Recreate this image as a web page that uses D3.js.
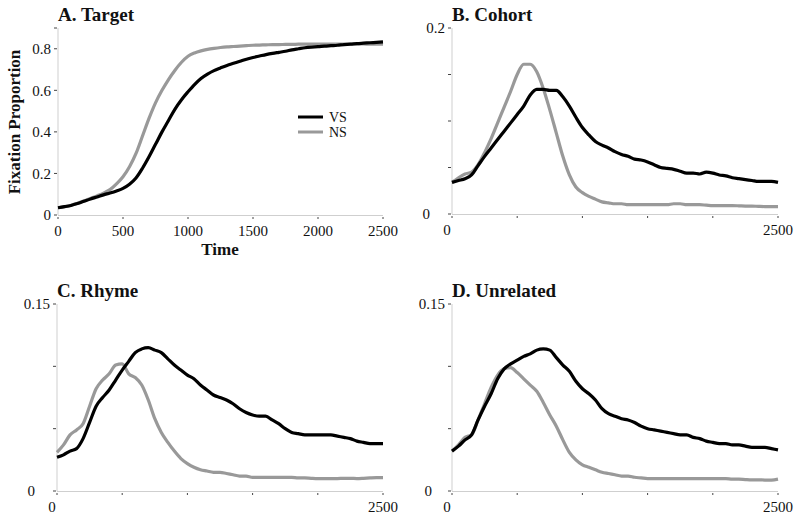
<!DOCTYPE html>
<html>
<head>
<meta charset="utf-8">
<script src="https://cdn.jsdelivr.net/npm/d3@7"></script>
<style>
  body { margin: 0; background: #fff; }
  svg { display: block; }
  text { font-family: "Liberation Serif", "Times New Roman", serif; fill: #111; }
</style>
</head>
<body>
<svg id="chart" width="800" height="520"></svg>
<script>
// ---- data ----
const times = d3.range(0, 2501, 50);
const seriesNames = ["VS", "NS"];
const panelTitles = ["A. Target", "B. Cohort", "C. Rhyme", "D. Unrelated"];
const xTicks = [0, 500, 1000, 1500, 2000, 2500];
const yMaxes = [0.9, 0.2, 0.15, 0.15];
const yTicksA = [0, 0.2, 0.4, 0.6, 0.8, 0.9];
const yTicksB = [0, 0.05, 0.1, 0.15, 0.2];
const yTicksCD = [0, 0.05, 0.1, 0.15];

const targetVS = [.035,.040,.046,.055,.066,.077,.087,.097,.106,.116,.128,.148,.178,.225,.280,.340,.400,.455,.510,.555,.593,.628,.657,.678,.695,.708,.720,.730,.740,.750,.758,.765,.772,.778,.783,.788,.795,.800,.805,.808,.810,.813,.815,.817,.820,.822,.825,.827,.829,.831,.833];
const targetNS = [.035,.040,.047,.057,.068,.080,.092,.105,.122,.150,.184,.232,.296,.380,.465,.540,.600,.652,.697,.735,.764,.780,.790,.797,.802,.806,.809,.811,.813,.815,.817,.818,.819,.820,.820,.821,.821,.822,.822,.823,.823,.823,.823,.823,.823,.823,.823,.823,.822,.822,.822];
const cohortVS = [.034,.036,.038,.042,.052,.062,.071,.080,.089,.098,.107,.116,.128,.134,.134,.133,.133,.126,.116,.104,.093,.085,.078,.074,.071,.067,.064,.062,.059,.058,.056,.053,.050,.049,.048,.046,.044,.044,.043,.045,.044,.042,.041,.039,.038,.037,.036,.035,.035,.035,.034];
const cohortNS = [.034,.039,.043,.045,.053,.066,.081,.098,.115,.132,.150,.161,.161,.153,.135,.112,.087,.062,.042,.029,.023,.019,.016,.013,.012,.011,.011,.010,.010,.010,.010,.010,.010,.010,.011,.011,.010,.010,.010,.0095,.009,.009,.009,.009,.0088,.0085,.0085,.0082,.008,.008,.008];
const rhymeVS = [.027,.029,.032,.034,.042,.055,.068,.075,.081,.089,.097,.104,.111,.114,.115,.113,.111,.106,.101,.097,.093,.090,.085,.081,.077,.075,.073,.070,.066,.063,.061,.060,.060,.057,.054,.050,.047,.046,.045,.045,.045,.045,.045,.044,.043,.042,.040,.039,.038,.038,.038];
const rhymeNS = [.031,.037,.045,.049,.054,.068,.082,.089,.094,.101,.102,.094,.091,.085,.073,.058,.047,.039,.032,.026,.022,.019,.017,.016,.015,.015,.014,.013,.012,.012,.011,.011,.011,.011,.011,.011,.011,.0105,.0105,.0102,.010,.010,.010,.010,.0102,.0102,.010,.0102,.0105,.0107,.0107];
const unrelVS = [.032,.036,.041,.045,.057,.068,.078,.090,.098,.102,.105,.108,.110,.113,.114,.113,.107,.101,.096,.088,.082,.078,.073,.066,.062,.060,.058,.057,.055,.052,.050,.049,.048,.047,.046,.045,.045,.043,.042,.040,.039,.038,.038,.037,.037,.036,.035,.035,.035,.034,.033];
const unrelNS = [.032,.037,.043,.045,.057,.070,.083,.093,.098,.099,.095,.090,.085,.080,.071,.061,.052,.041,.031,.025,.021,.019,.017,.015,.014,.013,.012,.012,.011,.0105,.010,.010,.010,.010,.010,.010,.010,.010,.010,.010,.010,.010,.010,.0095,.0095,.0092,.009,.009,.0088,.0088,.0095];

const panelData = [
  [targetVS, targetNS],
  [cohortVS, cohortNS],
  [rhymeVS, rhymeNS],
  [unrelVS, unrelNS]
];

// ---- layout ----
const colors = { VS: "#000000", NS: "#999999" };
const layouts = [
  { x0: 58,  x1: 383, yb: 215, yt: 28,  yTicks: yTicksA,  yLab: [0,0.2,0.4,0.6,0.8], xLab: xTicks,  zeroShift: 0,  fmt: d => d === 0 ? "0" : d3.format(".1f")(d), titleY: 21 },
  { x0: 452, x1: 778, yb: 214, yt: 28,  yTicks: yTicksB,  yLab: [0,0.2],   xLab: [0,2500], zeroShift: 15, fmt: d => d === 0 ? "0" : d3.format(".1f")(d), titleY: 21 },
  { x0: 57,  x1: 383, yb: 491, yt: 304, yTicks: yTicksCD, yLab: [0,0.15],  xLab: [0,2500], zeroShift: 15, fmt: d => d === 0 ? "0" : d3.format(".2f")(d), titleY: 297 },
  { x0: 452, x1: 778, yb: 491, yt: 304, yTicks: yTicksCD, yLab: [0,0.15],  xLab: [0,2500], zeroShift: 13, fmt: d => d === 0 ? "0" : d3.format(".2f")(d), titleY: 297 }
];

const svg = d3.select("#chart");

layouts.forEach((L, i) => {
  const x = d3.scaleLinear().domain([0, 2500]).range([L.x0, L.x1]);
  const y = d3.scaleLinear().domain([0, yMaxes[i]]).range([L.yb, L.yt]);
  const g = svg.append("g");

  // axis lines (light grey)
  g.append("line").attr("x1", L.x0).attr("x2", L.x0).attr("y1", L.yb).attr("y2", L.yt)
    .attr("stroke", "#cfcfcf").attr("stroke-width", 1);
  g.append("line").attr("x1", L.x0).attr("x2", L.x1).attr("y1", L.yb + 0.5).attr("y2", L.yb + 0.5)
    .attr("stroke", "#cfcfcf").attr("stroke-width", 1);

  // y ticks
  g.selectAll(".yt").data(L.yTicks).join("line")
    .attr("x1", L.x0 - 4).attr("x2", L.x0 - 1)
    .attr("y1", d => y(d)).attr("y2", d => y(d))
    .attr("stroke", "#444").attr("stroke-width", 1);
  g.selectAll(".yl").data(L.yLab).join("text")
    .attr("x", d => L.x0 - 7 - (d === 0 ? L.zeroShift : 0))
    .attr("y", d => y(d))
    .attr("dy", "0.35em")
    .attr("text-anchor", "end")
    .attr("font-size", 15)
    .text(L.fmt);

  // x ticks
  g.selectAll(".xt").data(xTicks).join("line")
    .attr("x1", d => x(d)).attr("x2", d => x(d))
    .attr("y1", L.yb + 2).attr("y2", L.yb + 4)
    .attr("stroke", "#444").attr("stroke-width", 1);
  g.selectAll(".xl").data(L.xLab).join("text")
    .attr("x", d => x(d) - (i > 0 && d === 0 ? 5 : 0))
    .attr("y", L.yb + 21)
    .attr("text-anchor", "middle")
    .attr("font-size", 15)
    .text(d => d);

  // title
  g.append("text").attr("x", L.x0).attr("y", L.titleY)
    .attr("font-size", 19).attr("font-weight", "bold").text(panelTitles[i]);

  // lines
  const line = d3.line().x((d, k) => x(times[k])).y(d => y(d)).curve(d3.curveMonotoneX);
  [1, 0].forEach(s => {
    g.append("path").datum(panelData[i][s])
      .attr("d", line)
      .attr("fill", "none")
      .attr("stroke", colors[seriesNames[s]])
      .attr("stroke-width", 3.2)
      .attr("stroke-linejoin", "round");
  });
});

// Panel A axis titles
svg.append("text").attr("x", 220).attr("y", 255).attr("text-anchor", "middle")
  .attr("font-size", 17).attr("font-weight", "bold").text("Time");
svg.append("text").attr("transform", "translate(20,122) rotate(-90)")
  .attr("text-anchor", "middle").attr("font-size", 17).attr("font-weight", "bold")
  .text("Fixation Proportion");

// Legend in panel A
const leg = svg.append("g");
seriesNames.forEach((n, k) => {
  const yy = 117 + k * 15;
  leg.append("line").attr("x1", 298).attr("x2", 323).attr("y1", yy).attr("y2", yy)
    .attr("stroke", colors[n]).attr("stroke-width", 3);
  leg.append("text").attr("x", 329).attr("y", yy).attr("dy", "0.35em")
    .attr("font-size", 14).text(n);
});
</script>
</body>
</html>
